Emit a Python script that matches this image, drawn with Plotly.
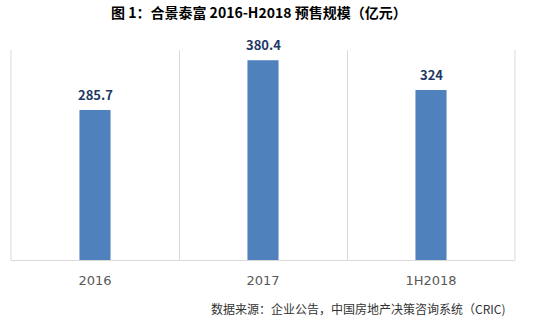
import plotly.graph_objects as go

categories = ["2016", "2017", "1H2018"]
values = [285.7, 380.4, 324]
value_labels = ["285.7", "380.4", "324"]

title_text = "图 1：合景泰富 2016-H2018 预售规模（亿元）"
source_text = "数据来源：企业公告，中国房地产决策咨询系统（CRIC)"

fig = go.Figure()
fig.add_trace(go.Bar(
    x=categories, y=values,
    marker=dict(color="#4F81BD", line=dict(width=0)),
    width=0.185,
    hoverinfo="skip",
))

for i, (v, t) in enumerate(zip(values, value_labels)):
    fig.add_annotation(x=i, y=v, text="<b>%s</b>" % t, showarrow=False,
                       yanchor="bottom", yshift=4,
                       font=dict(family="Noto Sans CJK SC, DejaVu Sans", size=13, color="#1F3864"))

fig.add_annotation(xref="paper", yref="paper", x=0.5, y=1, yshift=38, xshift=-4,
                   text="<b>" + title_text + "</b>", showarrow=False,
                   xanchor="center", yanchor="middle",
                   font=dict(family="Noto Sans CJK SC", size=14, color="#000000"))
fig.add_annotation(xref="paper", yref="paper", x=1, y=0, xshift=-7, yshift=-48,
                   text=source_text, showarrow=False,
                   xanchor="right", yanchor="middle",
                   font=dict(family="Noto Sans CJK SC", size=12, color="#333333"))

fig.update_layout(
    width=539, height=324,
    margin=dict(l=11, r=24, t=50, b=64),
    paper_bgcolor="white", plot_bgcolor="white",
    showlegend=False,
    xaxis=dict(
        type="category",
        tickson="boundaries",
        showgrid=True, gridcolor="#D9D9D9", gridwidth=1,
        showline=True, linecolor="#D9D9D9", linewidth=1, mirror=False,
        ticks="", ticklen=0,
        ticklabelstandoff=8,
        tickfont=dict(family="DejaVu Sans", size=13, color="#595959"),
        range=[-0.5, 2.5],
    ),
    yaxis=dict(
        range=[0, 400], showgrid=False, showticklabels=False,
        zeroline=False, showline=False, ticks="",
    ),
)
fig.add_shape(type="line", xref="paper", yref="paper", x0=0, x1=0, y0=0, y1=1,
              line=dict(color="#D9D9D9", width=1), layer="below")
fig.add_shape(type="line", xref="paper", yref="paper", x0=1, x1=1, y0=0, y1=1,
              line=dict(color="#D9D9D9", width=1), layer="below")

fig.write_html("out.html")
